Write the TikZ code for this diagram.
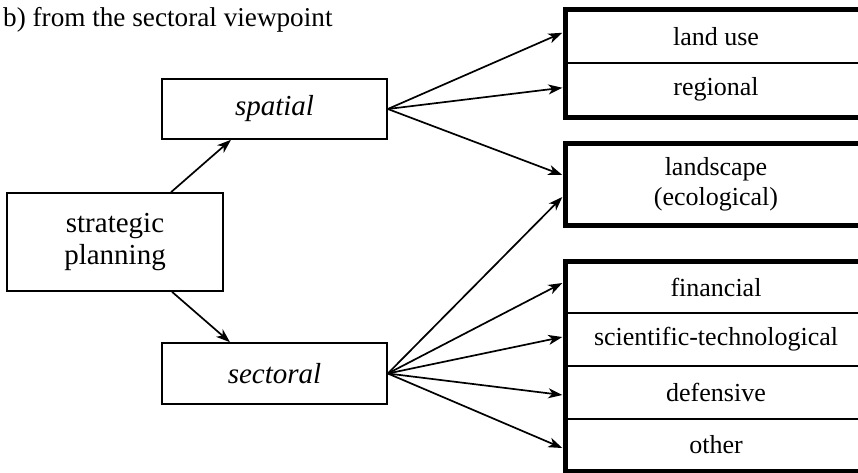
\documentclass[tikz,border=0pt]{standalone}
\usepackage{fontspec}
\setmainfont{Liberation Serif}
\usetikzlibrary{arrows.meta,calc}
\begin{document}
\begin{tikzpicture}[x=1pt,y=-1pt,
 lbox/.style={draw,line width=1.6pt,minimum width=225pt,minimum height=60pt,inner sep=0pt,font=\fontsize{29}{32}\selectfont,align=center},
 cell/.style={draw,line width=1.4pt,minimum width=300pt,inner sep=0pt,font=\fontsize{26}{30}\selectfont,align=center},
 grp/.style={line width=5pt},
 arr/.style={line width=1.7pt,-{Stealth[length=14pt,width=10pt,inset=4pt]}}]
\clip (0,0) rectangle (858,472);
\node[anchor=base west,inner sep=0pt,font=\fontsize{27.2}{30}\selectfont] (title) at (3,26) {b) from the sectoral viewpoint};
% left boxes
\node[lbox,minimum width=216pt,minimum height=98pt] (strat) at (115,242) {strategic\\planning};
\node[lbox] (spatial) at (274.5,109) {\textit{spatial}};
\node[lbox,minimum height=61pt] (sectoral) at (274.5,373.5) {\textit{sectoral}};
% right cells
\node[cell,minimum height=52.5pt] (landuse) at (716,36.75) {land use};
\node[cell,minimum height=53.5pt] (regional) at (716,89.75) {regional};
\node[cell,minimum height=81pt] (landscape) at (716,184.5) {landscape\\(ecological)};
\node[cell,minimum height=51pt] (financial) at (716,287.5) {financial};
\node[cell,minimum height=53pt] (scitech) at (716,339.5) {scientific-technological};
\node[cell,minimum height=53pt] (defensive) at (716,392.5) {defensive};
\node[cell,minimum height=52pt] (other) at (716,445) {other};
% thick group borders
\draw[grp] (landuse.north west) rectangle (regional.south east);
\draw[grp] (landscape.north west) rectangle (landscape.south east);
\draw[grp] (financial.north west) rectangle (other.south east);
% arrows
\draw[arr] ($(strat.north)+(56,0)$) -- ($(spatial.south)+(-43.5,0)$);
\draw[arr] ($(strat.south)+(57,0)$) -- ($(sectoral.north)+(-44.5,0)$);
\draw[arr] (spatial.east) -- ([xshift=-3pt,yshift=4pt]landuse.west);
\draw[arr] (spatial.east) -- ([xshift=-3pt,yshift=2pt]regional.west);
\draw[arr] (spatial.east) -- ([xshift=-3pt,yshift=9.5pt]landscape.west);
\draw[arr] (sectoral.east) -- ([xshift=-3pt,yshift=-12.5pt]landscape.west);
\draw[arr] (sectoral.east) -- ([xshift=-3pt,yshift=4.5pt]financial.west);
\draw[arr] (sectoral.east) -- ([xshift=-3pt,yshift=2.5pt]scitech.west);
\draw[arr] (sectoral.east) -- ([xshift=-3pt,yshift=-2.5pt]defensive.west);
\draw[arr] (sectoral.east) -- ([xshift=-3pt,yshift=-3pt]other.west);
\end{tikzpicture}
\end{document}
